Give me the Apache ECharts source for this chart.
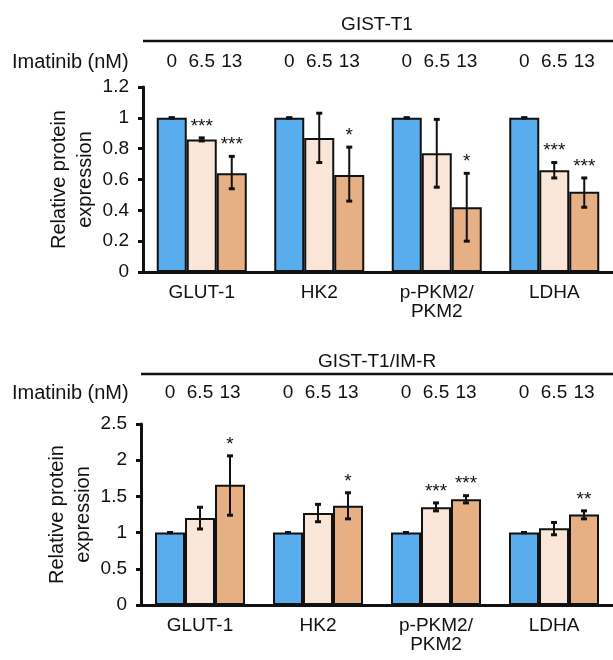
<!DOCTYPE html>
<html>
<head>
<meta charset="utf-8">
<script src="https://cdn.jsdelivr.net/npm/echarts@6/dist/echarts.min.js"></script>
<style>
  html, body { margin: 0; background: #fff; }
  #main { width: 613px; height: 660px; }
</style>
</head>
<body>
<div id="main"></div>
<script>
// categories / doses
const categories = ['GLUT-1', 'HK2', 'p-PKM2/\nPKM2', 'LDHA'];
const doses = ['0', '6.5', '13'];

// GIST-T1 (top)
const t1Ctrl = [1, 1, 1, 1];
const t1Mid = [0.86, 0.87, 0.77, 0.66];
const t1MidLo = [0.85, 0.71, 0.55, 0.61];
const t1MidHi = [0.87, 1.03, 0.99, 0.71];
const t1High = [0.64, 0.63, 0.42, 0.52];
const t1HighLo = [0.54, 0.46, 0.20, 0.42];
const t1HighHi = [0.75, 0.81, 0.64, 0.61];
const t1MidStars = ['***', '', '', '***'];
const t1HighStars = ['***', '*', '*', '***'];

// GIST-T1/IM-R (bottom)
const r1Ctrl = [1, 1, 1, 1];
const r1Mid = [1.20, 1.27, 1.35, 1.06];
const r1MidLo = [1.05, 1.15, 1.30, 0.97];
const r1MidHi = [1.35, 1.39, 1.41, 1.14];
const r1High = [1.66, 1.37, 1.46, 1.25];
const r1HighLo = [1.24, 1.19, 1.41, 1.19];
const r1HighHi = [2.06, 1.55, 1.51, 1.30];
const r1MidStars = ['', '', '***', ''];
const r1HighStars = ['*', '*', '***', '**'];

const t1Ticks = { min: 0, max: 1.2, interval: 0.2 };
const r1Ticks = { min: 0, max: 2.5, interval: 0.5 };

const FONT = 'Liberation Sans, Arial, Helvetica, sans-serif';
const INK = '#111';
const COLORS = ['#5aadec', '#f9e6d8', '#e6b084'];
const BAR_W = 30;

const panels = [
    {
        title: 'GIST-T1', grid: { left: 143, right: -3, top: 87, height: 185 },
        ticks: t1Ticks, doseY: 62, headY: 25, lineY: 41,
        values: [t1Ctrl, t1Mid, t1High],
        lo: [t1Ctrl, t1MidLo, t1HighLo],
        hi: [t1Ctrl, t1MidHi, t1HighHi],
        stars: [['', '', '', ''], t1MidStars, t1HighStars]
    },
    {
        title: 'GIST-T1/IM-R', grid: { left: 141, right: 0, top: 424, height: 181 },
        ticks: r1Ticks, doseY: 393, headY: 362, lineY: 374,
        values: [r1Ctrl, r1Mid, r1High],
        lo: [r1Ctrl, r1MidLo, r1HighLo],
        hi: [r1Ctrl, r1MidHi, r1HighHi],
        stars: [['', '', '', ''], r1MidStars, r1HighStars]
    }
];

const chart = echarts.init(document.getElementById('main'));

const grids = [], xAxes = [], yAxes = [], series = [], graphics = [];

panels.forEach((p, g) => {
    grids.push(p.grid);
    xAxes.push({
        type: 'category', gridIndex: g, data: categories,
        axisLine: { lineStyle: { color: INK, width: 3 } },
        axisTick: { show: false },
        axisLabel: { color: INK, fontFamily: FONT, fontSize: 19, lineHeight: 19, margin: 11, interval: 0 }
    });
    yAxes.push({
        type: 'value', gridIndex: g,
        min: p.ticks.min, max: p.ticks.max, interval: p.ticks.interval,
        name: 'Relative protein\nexpression', nameLocation: 'middle', nameGap: 45,
        nameMoveOverlap: false,
        nameTextStyle: { color: INK, fontFamily: FONT, fontSize: 20, lineHeight: 26 },
        axisLine: { show: true, lineStyle: { color: INK, width: 3 } },
        axisTick: { show: true, length: 5, lineStyle: { color: INK, width: 3 } },
        axisLabel: { color: INK, fontFamily: FONT, fontSize: 19, margin: 14 },
        splitLine: { show: false }
    });

    p.values.forEach((vals, k) => {
        series.push({
            type: 'bar', xAxisIndex: g, yAxisIndex: g, data: vals,
            barWidth: BAR_W, barGap: '0%',
            itemStyle: { color: COLORS[k], borderColor: INK, borderWidth: 2 }
        });
    });

    // error bars + significance stars
    const errData = [];
    for (let k = 0; k < 3; k++) {
        for (let i = 0; i < categories.length; i++) {
            errData.push([i, k, p.lo[k][i], p.hi[k][i]]);
        }
    }
    series.push({
        type: 'custom', xAxisIndex: g, yAxisIndex: g, data: errData, z: 10, clip: false,
        encode: { x: 0, y: [2, 3] },
        renderItem: (params, api) => {
            const i = api.value(0), k = api.value(1);
            const pLo = api.coord([i, api.value(2)]);
            const pHi = api.coord([i, api.value(3)]);
            const x = pLo[0] + (k - 1) * BAR_W;
            const st = { stroke: INK, lineWidth: 2 };
            const capSt = { stroke: INK, lineWidth: 3 };
            const children = [
                { type: 'line', shape: { x1: x, y1: pHi[1], x2: x, y2: pLo[1] }, style: st },
                { type: 'line', shape: { x1: x - 3, y1: pHi[1], x2: x + 3, y2: pHi[1] }, style: capSt },
                { type: 'line', shape: { x1: x - 3, y1: pLo[1], x2: x + 3, y2: pLo[1] }, style: capSt }
            ];
            const star = p.stars[k][i];
            if (star) {
                children.push({
                    type: 'text',
                    style: {
                        text: star, x: x, y: pHi[1] - 2, align: 'center', verticalAlign: 'bottom',
                        font: '19px ' + FONT, fill: INK
                    }
                });
            }
            return { type: 'group', children: children };
        }
    });

    // dose labels above each group
    series.push({
        type: 'custom', xAxisIndex: g, yAxisIndex: g, clip: false, silent: true,
        data: categories.map((c, i) => [i, p.ticks.min]),
        encode: { x: 0, y: 1 },
        renderItem: (params, api) => {
            const c = api.coord([api.value(0), p.ticks.min]);
            return {
                type: 'group',
                children: doses.map((d, k) => ({
                    type: 'text',
                    style: {
                        text: d, x: c[0] + (k - 1) * BAR_W, y: p.doseY,
                        align: 'center', verticalAlign: 'middle',
                        font: '19px ' + FONT, fill: INK
                    }
                }))
            };
        }
    });

    graphics.push(
        {
            type: 'text', x: 12, y: p.doseY,
            style: { text: 'Imatinib (nM)', font: '20px ' + FONT, fill: INK, verticalAlign: 'middle' }
        },
        {
            type: 'text', x: 377, y: p.headY,
            style: { text: p.title, font: '19px ' + FONT, fill: INK, align: 'center', verticalAlign: 'middle' }
        },
        {
            type: 'line',
            shape: { x1: p.grid.left, y1: p.lineY, x2: 613, y2: p.lineY },
            style: { stroke: INK, lineWidth: 2.5 }
        }
    );
});

chart.setOption({
    animation: false,
    backgroundColor: '#fff',
    grid: grids,
    xAxis: xAxes,
    yAxis: yAxes,
    series: series,
    graphic: graphics
});
</script>
</body>
</html>
